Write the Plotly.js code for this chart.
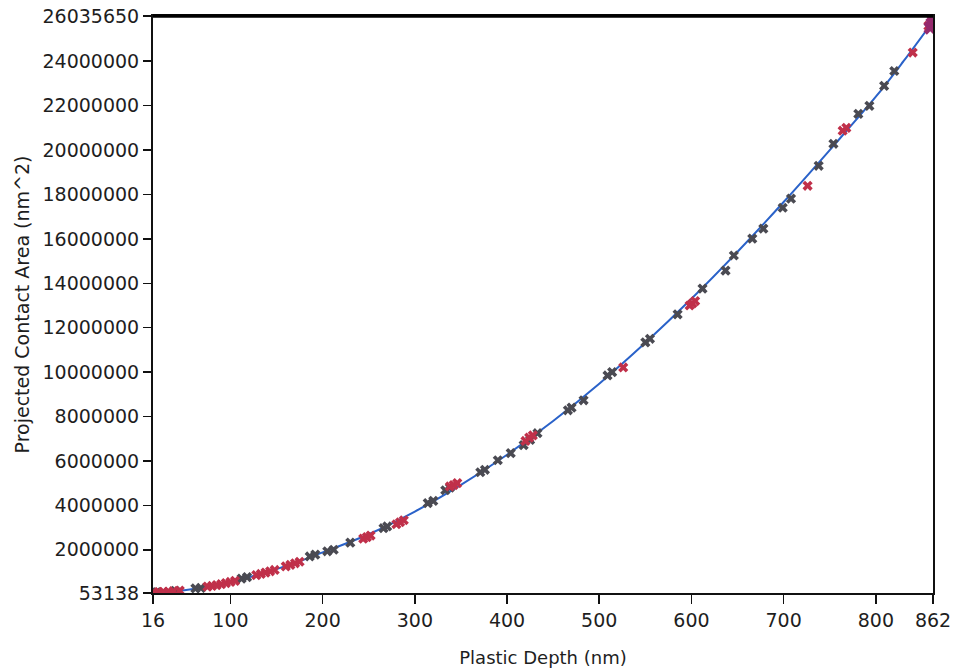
<!DOCTYPE html>
<html>
<head>
<meta charset="utf-8">
<script src="https://cdn.plot.ly/plotly-3.0.1.min.js"></script>
<style>
  html, body { margin: 0; padding: 0; background: #ffffff; }
  #chart { width: 955px; height: 669px; }
</style>
</head>
<body>
<div id="chart"></div>
<script>
// Fitted area-function curve
const fitDepth = [16, 30, 50, 75, 100, 125, 150, 175, 200, 250, 300, 350, 400, 450, 500, 550, 600, 650, 700, 750, 800, 830, 862];
const fitArea  = [53138, 100000, 180000, 330000, 550000, 820000, 1130000, 1480000, 1880000, 2700000, 3720000, 4920000, 6280000, 7800000, 9480000, 11320000, 13300000, 15420000, 17660000, 20000000, 22400000, 24000000, 25800000];

// Measured points, dark grey series
const greyDepth = [20, 40, 62, 68, 112, 118, 186, 192, 205, 212, 230, 266, 270, 314, 320, 333, 338, 371, 376, 390, 404, 418, 425, 433, 466, 470, 483, 509, 514, 550, 555, 585, 612, 637, 646, 666, 678, 699, 708, 738, 754, 781, 793, 809, 820];
const greyArea  = [90000, 150000, 260000, 280000, 700000, 770000, 1700000, 1780000, 1930000, 2000000, 2320000, 2970000, 3050000, 4100000, 4200000, 4680000, 4800000, 5490000, 5600000, 6030000, 6350000, 6710000, 6950000, 7250000, 8280000, 8400000, 8730000, 9850000, 10000000, 11340000, 11500000, 12600000, 13760000, 14570000, 15250000, 16010000, 16460000, 17400000, 17810000, 19290000, 20280000, 21630000, 21990000, 22890000, 23560000];

// Measured points, red series
const redDepth = [17, 22, 27, 33, 38, 45, 75, 80, 85, 90, 95, 100, 105, 128, 133, 138, 143, 148, 160, 165, 170, 175, 244, 248, 252, 280, 284, 288, 338, 342, 346, 420, 424, 428, 526, 598, 601, 604, 726, 764, 768, 840, 857];
const redArea  = [80000, 95000, 110000, 120000, 135000, 160000, 340000, 370000, 410000, 450000, 500000, 550000, 600000, 860000, 910000, 970000, 1030000, 1090000, 1250000, 1320000, 1390000, 1460000, 2500000, 2570000, 2640000, 3150000, 3240000, 3330000, 4850000, 4910000, 5000000, 6900000, 7050000, 7150000, 10210000, 13000000, 13090000, 13200000, 18390000, 20870000, 21000000, 24390000, 25590000];

// Last points at maximum depth (purple)
const endDepth = [859, 861, 862];
const endArea  = [25500000, 25700000, 25850000];

// Axis ticks
const xTickVals = [16, 100, 200, 300, 400, 500, 600, 700, 800, 862];
const xTickText = ["16", "100", "200", "300", "400", "500", "600", "700", "800", "862"];
const yTickVals = [53138, 2000000, 4000000, 6000000, 8000000, 10000000, 12000000, 14000000, 16000000, 18000000, 20000000, 22000000, 24000000, 26035650];
const yTickText = ["53138", "2000000", "4000000", "6000000", "8000000", "10000000", "12000000", "14000000", "16000000", "18000000", "20000000", "22000000", "24000000", "26035650"];

const FONT = "DejaVu Sans, Liberation Sans, Arial, sans-serif";

const traces = [
  {
    x: fitDepth, y: fitArea, type: "scatter", mode: "lines",
    line: { color: "#2a62c9", width: 2, shape: "spline" },
    hoverinfo: "skip", showlegend: false
  },
  {
    x: greyDepth, y: greyArea, type: "scatter", mode: "markers",
    marker: { symbol: "x", size: 9, color: "#4a4a52", line: { width: 0 } },
    showlegend: false
  },
  {
    x: redDepth, y: redArea, type: "scatter", mode: "markers",
    marker: { symbol: "x", size: 9, color: "#c0304a", line: { width: 0 } },
    showlegend: false
  },
  {
    x: endDepth, y: endArea, type: "scatter", mode: "markers",
    marker: { symbol: "x", size: 12, color: "#962a6e", line: { width: 0 } },
    showlegend: false
  }
];

const layout = {
  width: 955, height: 669,
  paper_bgcolor: "#ffffff", plot_bgcolor: "#ffffff",
  margin: { l: 153, r: 22, t: 16, b: 76, pad: 0 },
  font: { family: FONT, size: 19, color: "#1e1e1e" },
  showlegend: false,
  xaxis: {
    range: [16, 862], autorange: false,
    tickmode: "array", tickvals: xTickVals, ticktext: xTickText,
    ticks: "outside", ticklen: 9, tickwidth: 1.5, tickcolor: "#111",
    showgrid: false, zeroline: false,
    showline: true, linecolor: "#111", linewidth: 2, mirror: true,
    tickfont: { family: FONT, size: 19, color: "#1e1e1e" },
    title: { text: "Plastic Depth (nm)", font: { family: FONT, size: 18, color: "#1e1e1e" }, standoff: 22 }
  },
  yaxis: {
    range: [53138, 26035650], autorange: false,
    tickmode: "array", tickvals: yTickVals, ticktext: yTickText,
    ticks: "outside", ticklen: 8, tickwidth: 1.5, tickcolor: "#111",
    showgrid: false, zeroline: false,
    showline: true, linecolor: "#111", linewidth: 2, mirror: true,
    tickfont: { family: FONT, size: 19, color: "#1e1e1e" },
    title: { text: "Projected Contact Area (nm^2)", font: { family: FONT, size: 19, color: "#1e1e1e" }, standoff: 8 }
  },
  shapes: [
    { type: "line", xref: "paper", yref: "paper", x0: 0, x1: 1, y0: 1, y1: 1,
      line: { color: "#000", width: 3.5 } }
  ]
};

Plotly.newPlot("chart", traces, layout, { displayModeBar: false, staticPlot: true });
</script>
</body>
</html>
